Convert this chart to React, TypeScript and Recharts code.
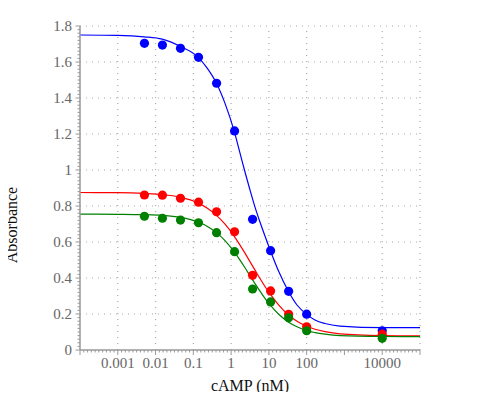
import React from 'react';
import { ComposedChart, XAxis, YAxis, Line, Scatter, ReferenceLine } from 'recharts';

// Measured doses (nM)
const doseX = [0.00508, 0.0152, 0.0457, 0.137, 0.412, 1.235, 3.7, 11.1, 33.3, 100, 10000];
// Measured absorbance
const blueY = [1.704, 1.694, 1.676, 1.626, 1.482, 1.217, 0.726, 0.552, 0.326, 0.199, 0.107];
const redY = [0.861, 0.86, 0.843, 0.821, 0.768, 0.657, 0.415, 0.328, 0.198, 0.129, 0.088];
const greenY = [0.743, 0.732, 0.722, 0.707, 0.652, 0.546, 0.339, 0.267, 0.179, 0.107, 0.065];

// Fitted curves
const curveX = [0.0001, 0.001, 0.005, 0.015, 0.045, 0.135, 0.23, 0.41, 0.69, 1.2, 1.72, 2.33, 3.16, 4.29, 5.81, 7.88, 10.9, 18.5, 32.6, 55.5, 100, 166, 305, 762, 10000, 100000];
const blueFit = [1.75, 1.748, 1.74, 1.727, 1.687, 1.626, 1.567, 1.482, 1.37, 1.217, 1.094, 0.989, 0.889, 0.794, 0.711, 0.633, 0.553, 0.433, 0.328, 0.25, 0.198, 0.167, 0.147, 0.133, 0.124, 0.124];
const redFit = [0.875, 0.874, 0.87, 0.864, 0.849, 0.816, 0.789, 0.748, 0.699, 0.633, 0.583, 0.538, 0.491, 0.444, 0.397, 0.353, 0.31, 0.248, 0.196, 0.16, 0.132, 0.115, 0.102, 0.09, 0.08, 0.078];
const greenFit = [0.755, 0.754, 0.752, 0.748, 0.737, 0.711, 0.688, 0.652, 0.608, 0.546, 0.499, 0.457, 0.413, 0.369, 0.327, 0.287, 0.249, 0.197, 0.156, 0.129, 0.108, 0.097, 0.088, 0.08, 0.075, 0.074];

// Tick labels and grid positions
const xLabelTicks = [0.001, 0.01, 0.1, 1, 10, 100, 10000];
const xGridValues = [0.001, 0.01, 0.1, 1, 10, 100, 10000, 100000];
const yLabelTicks = [0, 0.2, 0.4, 0.6, 0.8, 1, 1.2, 1.4, 1.6, 1.8];
const yGridValues = [0.2, 0.4, 0.6, 0.8, 1, 1.2, 1.4, 1.6, 1.8];

const xMinorTicks = Array.from({ length: 91 }, (_, i) => Math.pow(10, -4 + i / 10));
const yMinorTicks = Array.from({ length: 91 }, (_, i) => (i * 2) / 100);

const toPoints = (xs: number[], ys: number[]) => xs.map((x, i) => ({ x, y: ys[i] }));

const FONT = "'Liberation Serif', 'Times New Roman', serif";
const AXIS_COLOR = '#999';
const TICK_TEXT = '#666';

const XTick = (props: any) => {
  const { x, y, payload } = props;
  const v = payload.value as number;
  const lg = Math.log10(v);
  const isMajor = Math.abs(lg - Math.round(lg)) < 1e-6;
  const label = xLabelTicks.find((t) => Math.abs(Math.log10(t) - lg) < 1e-6);
  return (
    <g>
      <line x1={x} x2={x} y1={y} y2={y + (isMajor ? 5 : 2.5)} stroke={AXIS_COLOR} strokeWidth={1} />
      {label !== undefined && (
        <text x={x} y={y + 18} textAnchor="middle" fill={TICK_TEXT} fontSize={15} fontFamily={FONT}>
          {String(label)}
        </text>
      )}
    </g>
  );
};

const YTick = (props: any) => {
  const { x, y, payload } = props;
  const v = payload.value as number;
  const label = yLabelTicks.find((t) => Math.abs(t - v) < 1e-6);
  const isMajor = label !== undefined;
  return (
    <g>
      <line x1={x - (isMajor ? 4.5 : 2.5)} x2={x} y1={y} y2={y} stroke={AXIS_COLOR} strokeWidth={1} />
      {isMajor && (
        <text x={x - 8} y={y + 5} textAnchor="end" fill={TICK_TEXT} fontSize={15} fontFamily={FONT}>
          {String(label)}
        </text>
      )}
    </g>
  );
};

const makeDot = (color: string) => (props: any) => (
  <circle cx={props.cx} cy={props.cy} r={4.6} fill={color} stroke="none" />
);

export default function App() {
  const gridStyle = { stroke: '#aaa', strokeWidth: 1.2, strokeDasharray: '1 5' };
  return (
    <div style={{ margin: '-8px', width: 500, height: 400 }}>
      <ComposedChart
        width={500}
        height={400}
        margin={{ top: 26, right: 80, bottom: 0, left: 0 }}
      >
        <XAxis
          dataKey="x"
          type="number"
          scale="log"
          domain={[0.0001, 100000]}
          allowDataOverflow
          ticks={xMinorTicks}
          interval={0}
          tickSize={0}
          tickMargin={0}
          tick={<XTick />}
          tickLine={false}
          axisLine={{ stroke: AXIS_COLOR, strokeWidth: 1.5 }}
          height={50}
          label={{
            content: () => (
              <text x={250} y={390.5} textAnchor="middle" fill="#111" fontSize={16} fontFamily={FONT}>
                cAMP (nM)
              </text>
            ),
          }}
        />
        <YAxis
          dataKey="y"
          type="number"
          domain={[0, 1.8]}
          allowDataOverflow
          ticks={yMinorTicks}
          interval={0}
          tickSize={0}
          tickMargin={0}
          tick={<YTick />}
          tickLine={false}
          axisLine={{ stroke: AXIS_COLOR, strokeWidth: 1.5 }}
          width={80}
          label={{
            content: () => (
              <text
                x={17}
                y={225}
                transform="rotate(-90 17 225)"
                textAnchor="middle"
                fill="#111"
                fontSize={16}
                fontFamily={FONT}
              >
                Absorbance
              </text>
            ),
          }}
        />
        {yGridValues.map((v) => (
          <ReferenceLine key={'gy' + v} y={v} {...gridStyle} />
        ))}
        {xGridValues.map((v) => (
          <ReferenceLine key={'gx' + v} x={v} {...gridStyle} />
        ))}
        <Line data={toPoints(curveX, blueFit)} dataKey="y" type="monotone" stroke="#0000ff" strokeWidth={1.2} dot={false} activeDot={false} isAnimationActive={false} />
        <Line data={toPoints(curveX, redFit)} dataKey="y" type="monotone" stroke="#ff0000" strokeWidth={1.2} dot={false} activeDot={false} isAnimationActive={false} />
        <Line data={toPoints(curveX, greenFit)} dataKey="y" type="monotone" stroke="#008000" strokeWidth={1.2} dot={false} activeDot={false} isAnimationActive={false} />
        <Scatter data={toPoints(doseX, blueY)} dataKey="y" fill="#0000ff" shape={makeDot('#0000ff')} isAnimationActive={false} />
        <Scatter data={toPoints(doseX, redY)} dataKey="y" fill="#ff0000" shape={makeDot('#ff0000')} isAnimationActive={false} />
        <Scatter data={toPoints(doseX, greenY)} dataKey="y" fill="#008000" shape={makeDot('#008000')} isAnimationActive={false} />
      </ComposedChart>
    </div>
  );
}
